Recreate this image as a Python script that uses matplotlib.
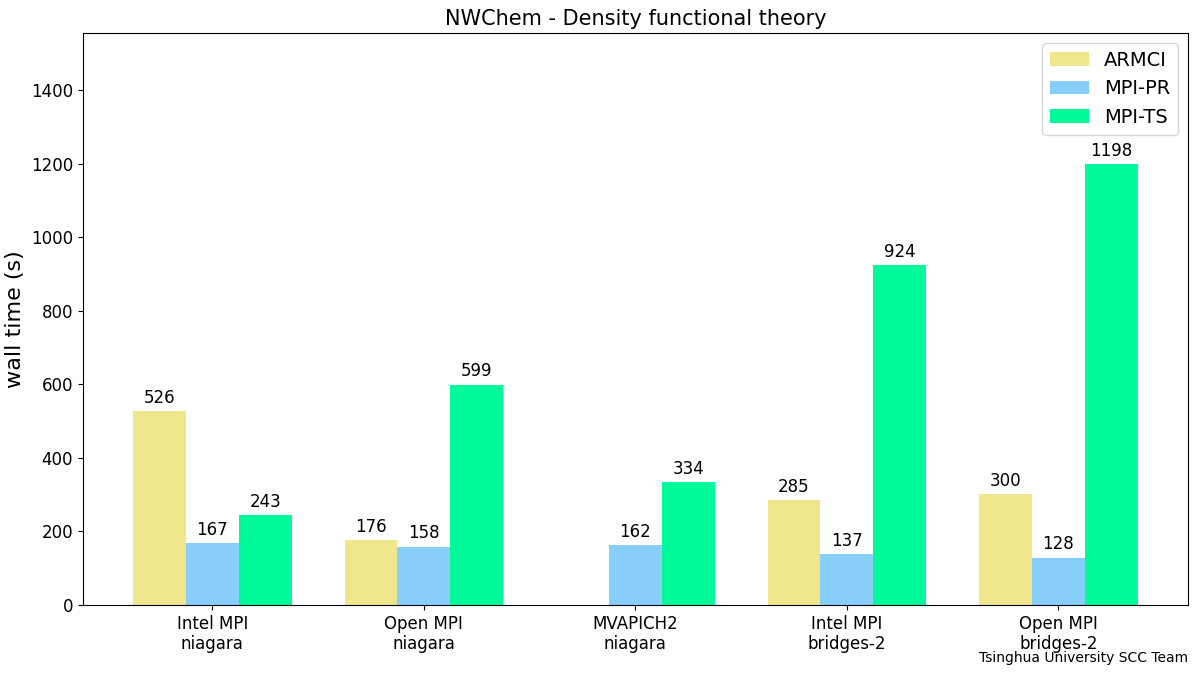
import matplotlib
matplotlib.use("Agg")
import matplotlib.pyplot as plt
import numpy as np

categories = ["Intel MPI\nniagara", "Open MPI\nniagara", "MVAPICH2\nniagara", "Intel MPI\nbridges-2", "Open MPI\nbridges-2"]
armci = [526, 176, np.nan, 285, 300]
mpi_pr = [167, 158, 162, 137, 128]
mpi_ts = [243, 599, 334, 924, 1198]

series = [("ARMCI", armci, "#F0E68C"), ("MPI-PR", mpi_pr, "#87CEFA"), ("MPI-TS", mpi_ts, "#00FA9A")]

fig, ax = plt.subplots(figsize=(12, 6.75), dpi=100)
fig.subplots_adjust(left=0.069, right=0.99, top=0.951, bottom=0.104)
x = np.arange(len(categories))
w = 0.25
for i, (name, vals, col) in enumerate(series):
    v = np.array(vals, dtype=float)
    bars = ax.bar(x + (i - 1) * w, np.nan_to_num(v), w, color=col, label=name)
    for b, val in zip(bars, v):
        if not np.isnan(val):
            ax.text(b.get_x() + b.get_width() / 2, val + 12, f"{int(val)}", ha="center", va="bottom", fontsize=12)

ax.set_xticks(x)
ax.set_xticklabels(categories, fontsize=12)
ax.tick_params(axis="y", labelsize=12)
ax.set_ylim(0, 1555)
ax.set_ylabel("wall time (s)", fontsize=16)
ax.set_title("NWChem - Density functional theory", fontsize=15)
ax.legend(fontsize=14, loc="upper right")
fig.text(0.99, 0.015, "Tsinghua University SCC Team", ha="right", va="bottom", fontsize=10)
fig.savefig("out.png")
